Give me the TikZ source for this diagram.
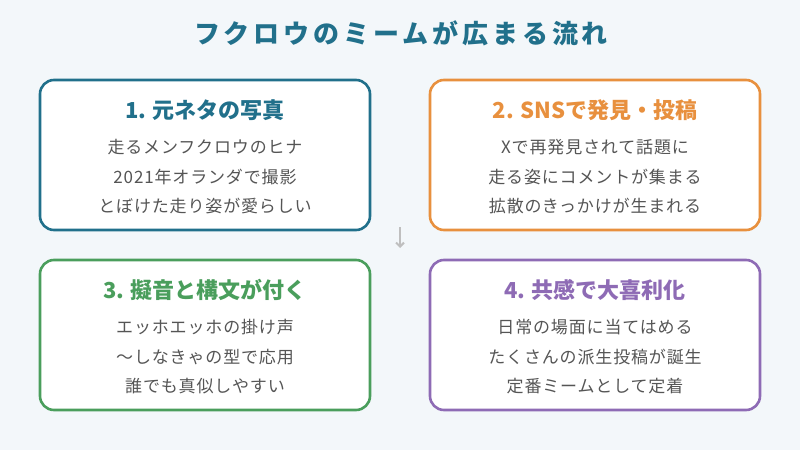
\documentclass[tikz,border=0pt]{standalone}
\usepackage{fontspec}
\setmainfont{Noto Sans CJK JP}
\newfontfamily\titlefont[LetterSpace=15]{Noto Sans CJK JP}
\newfontfamily\bodyfont[LetterSpace=5]{Noto Sans CJK JP}
\usepackage{tikz}
\usetikzlibrary{arrows.meta}
\definecolor{bgcol}{HTML}{F3F7FA}
\definecolor{titlecol}{HTML}{21708B}
\definecolor{tealcol}{HTML}{21708B}
\definecolor{orangecol}{HTML}{E8903E}
\definecolor{greencol}{HTML}{4A9E5C}
\definecolor{purplecol}{HTML}{8E6BB5}
\definecolor{bodycol}{HTML}{555555}
\tikzstyle{Box}=[draw, fill=white, line width=2.6pt, rounded corners=14pt, minimum width=330pt, minimum height=150pt]
\tikzstyle{Head}=[font=\fontsize{22}{26}\selectfont\bfseries]
\tikzstyle{Body}=[text=bodycol, font=\bodyfont\fontsize{17}{20}\selectfont]
\tikzstyle{Arrow}=[-{Straight Barb[length=4pt,width=8pt]}, draw=black!25, line width=2pt]

\begin{document}
\begin{tikzpicture}[x=1pt, y=-1pt]

\fill[bgcol] (0,0) rectangle (800,450);
\useasboundingbox (0,0) rectangle (800,450);

\node[text=titlecol, font=\titlefont\fontsize{26}{30}\selectfont\bfseries] (title) at (401,33) {フクロウのミームが広まる流れ};

% 1
\node[Box, draw=tealcol] (orig) at (205,155) {};
\node[Head, text=tealcol] (origh) at (205,110) {1. 元ネタの写真};
\node[Body] (orig1) at (205,147) {走るメンフクロウのヒナ};
\node[Body] (orig2) at (205,177) {2021年オランダで撮影};
\node[Body] (orig3) at (205,206) {とぼけた走り姿が愛らしい};

% 2
\node[Box, draw=orangecol] (sns) at (595,155) {};
\node[Head, text=orangecol] (snsh) at (595,110) {2. SNSで発見・投稿};
\node[Body] (sns1) at (595,147) {Xで再発見されて話題に};
\node[Body] (sns2) at (595,177) {走る姿にコメントが集まる};
\node[Body] (sns3) at (595,206) {拡散のきっかけが生まれる};

% 3
\node[Box, draw=greencol] (onom) at (205,335) {};
\node[Head, text=greencol] (onomh) at (205,290) {3. 擬音と構文が付く};
\node[Body] (onom1) at (205,327) {エッホエッホの掛け声};
\node[Body] (onom2) at (205,357) {〜しなきゃの型で応用};
\node[Body] (onom3) at (205,386) {誰でも真似しやすい};

% 4
\node[Box, draw=purplecol] (sym) at (595,335) {};
\node[Head, text=purplecol] (symh) at (595,290) {4. 共感で大喜利化};
\node[Body] (sym1) at (595,327) {日常の場面に当てはめる};
\node[Body] (sym2) at (595,357) {たくさんの派生投稿が誕生};
\node[Body] (sym3) at (595,386) {定番ミームとして定着};

\coordinate (arrtop) at (400,227);
\coordinate (arrbot) at (400,248);
\draw[Arrow] (arrtop) -- (arrbot);

\end{tikzpicture}
\end{document}
